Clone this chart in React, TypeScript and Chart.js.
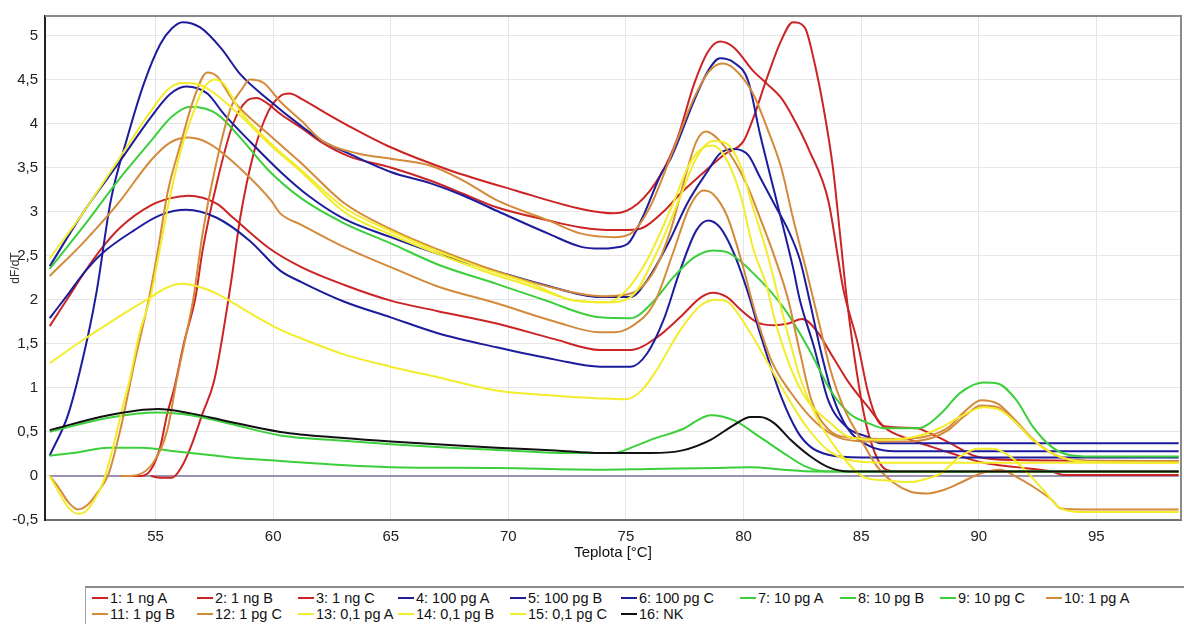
import { useEffect, useRef } from "react";
import { Chart, registerables } from "chart.js";

Chart.register(...registerables);

type Pt = [number, number];

// Axis ticks: temperature (°C) and dF/dT
const tempTicks = [55, 60, 65, 70, 75, 80, 85, 90, 95];
const dfTicks = [-0.5, 0, 0.5, 1, 1.5, 2, 2.5, 3, 3.5, 4, 4.5, 5];

const sampleNames = [
  "1: 1 ng A", "2: 1 ng B", "3: 1 ng C",
  "4: 100 pg A", "5: 100 pg B", "6: 100 pg C",
  "7: 10 pg A", "8: 10 pg B", "9: 10 pg C",
  "10: 1 pg A", "11: 1 pg B", "12: 1 pg C",
  "13: 0,1 pg A", "14: 0,1 pg B", "15: 0,1 pg C",
  "16: NK",
];

const RED = "#cc2424";
const BLUE = "#1c1c9c";
const GREEN = "#3ccf3c";
const ORANGE = "#d48a3a";
const YELLOW = "#f2ec2a";
const BLACK = "#111111";

const sampleColors = [
  RED, RED, RED, BLUE, BLUE, BLUE, GREEN, GREEN, GREEN,
  ORANGE, ORANGE, ORANGE, YELLOW, YELLOW, YELLOW, BLACK,
];

// Melting curves: [temperature °C, dF/dT]
const ng1A: Pt[] = [
  [50.5, 1.7], [51.3, 2.03], [52.0, 2.32], [52.7, 2.58], [53.5, 2.82], [54.8, 3.07], [55.6, 3.15],
  [56.4, 3.18], [57.6, 3.09], [58.3, 2.93], [59.8, 2.59], [61.2, 2.37], [63, 2.17], [65, 1.99],
  [67, 1.87], [69.5, 1.73], [72, 1.55], [73.9, 1.43], [75.2, 1.43], [76.3, 1.57], [77.3, 1.8],
  [78.2, 2.03], [78.7, 2.08], [79.3, 2.03], [79.9, 1.88], [80.6, 1.74], [81.3, 1.71], [81.9, 1.73],
  [82.5, 1.78], [83.1, 1.65], [83.8, 1.35], [84.5, 1.05], [85.3, 0.78], [86.0, 0.55], [87, 0.42],
  [88, 0.33], [88.8, 0.26], [90.2, 0.15], [91.6, 0.1], [93.1, 0.05], [93.6, 0.01], [98.5, 0.01],
];

const ng1B: Pt[] = [
  [53.5, 0], [54.4, 0.0], [54.8, 0.07], [55.2, 0.33], [55.5, 0.71], [55.8, 1.0], [56.2, 1.5],
  [56.7, 2.03], [57.0, 2.56], [57.6, 3.32], [58.3, 4.0], [58.9, 4.26], [59.3, 4.29], [59.8, 4.22],
  [60.3, 4.11], [61.2, 3.95], [62.1, 3.78], [63.2, 3.63], [65, 3.5], [66.7, 3.35], [68.1, 3.2],
  [69.5, 3.05], [71.7, 2.9], [73.1, 2.82], [74.5, 2.79], [75.5, 2.8], [76.6, 3.0], [77.3, 3.2],
  [78.2, 3.42], [79.2, 3.65], [80.0, 3.8], [80.4, 4.05], [81.0, 4.52], [81.6, 4.94], [82.1, 5.15],
  [82.6, 5.09], [83.0, 4.71], [83.4, 4.18], [83.8, 3.5], [84.1, 2.75], [84.4, 1.99], [84.8, 1.2],
  [85.2, 0.6], [85.6, 0.25], [86.0, 0.08], [86.5, 0.05], [98.5, 0.05],
];

const ng1C: Pt[] = [
  [54.8, 0], [55.2, -0.02], [55.7, -0.02], [56.1, 0.1], [56.5, 0.33], [57.0, 0.71], [57.5, 1.09],
  [58.2, 2.18], [58.6, 2.93], [59.2, 3.69], [59.8, 4.14], [60.3, 4.31], [60.7, 4.34], [61.2, 4.28],
  [62.1, 4.14], [63.3, 3.96], [65, 3.73], [67.5, 3.47], [70.3, 3.24], [73.1, 3.03], [74.5, 2.98],
  [75.5, 3.09], [76.5, 3.43], [77.2, 3.84], [77.9, 4.45], [78.5, 4.82], [79.0, 4.93], [79.6, 4.86],
  [80.4, 4.6], [81.0, 4.45], [81.6, 4.29], [82.1, 4.07], [82.8, 3.69], [83.6, 3.13], [84.25, 2.11],
  [84.85, 1.51], [85.3, 0.94], [85.7, 0.63], [86.1, 0.56], [87.4, 0.54], [87.8, 0.5], [88.8, 0.37],
  [89.9, 0.22], [91.6, 0.18], [98.5, 0.17],
];

const pg100A: Pt[] = [
  [50.5, 0.23], [51.3, 0.71], [52.15, 1.62], [52.5, 2.1], [53.1, 3.13], [53.8, 3.84], [54.5, 4.45],
  [55.2, 4.9], [55.7, 5.08], [56.15, 5.15], [56.9, 5.09], [57.8, 4.85], [58.6, 4.56], [59.8, 4.27],
  [61.2, 3.97], [62.1, 3.8], [63.2, 3.66], [65, 3.45], [66.7, 3.32], [68.1, 3.18], [69.5, 3.01],
  [71.7, 2.75], [73.1, 2.6], [73.9, 2.58], [74.5, 2.59], [75.1, 2.64], [75.7, 2.93], [76.5, 3.43],
  [76.9, 3.6], [77.9, 4.26], [78.5, 4.6], [79.0, 4.74], [79.6, 4.69], [80.2, 4.48], [80.7, 3.88],
  [81.4, 3.13], [82.1, 2.37], [82.4, 1.99], [83.0, 1.46], [83.6, 0.86], [84.4, 0.55], [85.3, 0.44],
  [85.8, 0.37], [98.5, 0.37],
];

const pg100B: Pt[] = [
  [50.5, 2.38], [51.9, 2.98], [53.4, 3.54], [54.8, 4.07], [55.6, 4.33], [56.3, 4.42], [57.2, 4.34],
  [57.9, 4.11], [59.0, 3.8], [60.4, 3.43], [61.5, 3.18], [63, 2.92], [65, 2.71], [67, 2.52],
  [69.4, 2.33], [71.5, 2.17], [73.9, 2.03], [75.2, 2.03], [75.9, 2.22], [76.8, 2.64], [77.6, 3.09],
  [78.5, 3.47], [79.0, 3.66], [79.6, 3.71], [80.2, 3.64], [80.7, 3.39], [81.3, 3.09], [81.9, 2.79],
  [82.4, 2.45], [82.8, 2.0], [83.3, 1.4], [83.8, 0.9], [84.4, 0.55], [85.2, 0.36], [86.0, 0.29],
  [87, 0.28], [98.5, 0.28],
];

const pg100C: Pt[] = [
  [50.5, 1.79], [51.3, 2.07], [52.0, 2.32], [52.7, 2.52], [54.1, 2.79], [55.2, 2.96], [56.3, 3.02],
  [57.6, 2.93], [59.0, 2.67], [60.3, 2.33], [61.2, 2.2], [63, 1.98], [65, 1.8], [67, 1.62],
  [69.5, 1.46], [72, 1.32], [73.9, 1.24], [75.2, 1.24], [75.9, 1.39], [76.6, 1.77], [77.3, 2.33],
  [78.0, 2.79], [78.5, 2.9], [79.0, 2.82], [79.6, 2.52], [80.2, 2.07], [80.7, 1.62], [81.6, 0.9],
  [82.3, 0.5], [82.85, 0.33], [83.6, 0.24], [85, 0.21], [98.5, 0.21],
];

const pg10A: Pt[] = [
  [50.5, 2.35], [51.9, 2.82], [53.4, 3.35], [54.8, 3.8], [55.7, 4.08], [56.5, 4.19], [57.6, 4.11],
  [58.6, 3.84], [59.8, 3.47], [61.2, 3.15], [63, 2.87], [65, 2.64], [67, 2.4], [69.5, 2.18],
  [71.5, 2.0], [73.9, 1.8], [75.2, 1.79], [76.2, 1.99], [77.0, 2.25], [77.9, 2.48], [78.7, 2.56],
  [79.3, 2.54], [80.3, 2.33], [81.7, 1.91], [82.8, 1.43], [83.7, 0.97], [84.5, 0.71], [85.3, 0.6],
  [86, 0.54], [87.4, 0.54], [88.4, 0.71], [89.2, 0.94], [90.2, 1.06], [90.8, 1.05], [91.6, 0.86],
  [92.3, 0.56], [93.1, 0.33], [93.8, 0.24], [94.8, 0.22], [98.5, 0.22],
];

const pg10B: Pt[] = [
  [50.5, 0.5], [53.0, 0.66], [55.1, 0.72], [56.5, 0.69], [57.9, 0.61], [60.3, 0.46], [63, 0.4],
  [65, 0.36], [67.5, 0.32], [70, 0.29], [72.5, 0.26], [74.5, 0.26], [75.3, 0.33], [76.05, 0.41],
  [77.4, 0.53], [78.6, 0.69], [79.6, 0.63], [80.7, 0.44], [81.7, 0.26], [82.7, 0.1], [83.6, 0.05],
  [98.5, 0.05],
];

const pg10C: Pt[] = [
  [50.5, 0.23], [51.5, 0.26], [53, 0.32], [54.4, 0.32], [55.8, 0.28], [57.2, 0.24], [58.6, 0.2],
  [60.3, 0.17], [62.5, 0.13], [65, 0.1], [69.5, 0.09], [73.9, 0.07], [76, 0.08], [78.9, 0.09],
  [80.3, 0.1], [81.7, 0.07], [83, 0.05], [98.5, 0.05],
];

const pg1A: Pt[] = [
  [50.5, 0], [50.9, -0.14], [51.3, -0.3], [51.7, -0.38], [52.1, -0.33], [52.5, -0.2], [53.0, 0.02],
  [53.5, 0.52], [54.1, 1.28], [54.7, 1.99], [55.1, 2.56], [55.5, 3.2], [56.1, 3.8], [56.6, 4.26],
  [57.2, 4.58], [57.6, 4.54], [58.3, 4.26], [59.8, 3.88], [61.2, 3.55], [63, 3.1], [65, 2.8],
  [67, 2.57], [69, 2.37], [71, 2.2], [73, 2.07], [74, 2.04], [75.2, 2.07], [76.2, 2.33],
  [76.9, 2.79], [77.6, 3.47], [78.0, 3.8], [78.4, 3.91], [79.0, 3.8], [79.6, 3.58], [80.2, 3.27],
  [80.7, 2.93], [81.3, 2.5], [81.9, 2.0], [82.4, 1.4], [82.9, 0.85], [83.6, 0.53], [84.4, 0.44],
  [86.4, 0.42], [87.8, 0.45], [88.7, 0.55], [89.4, 0.73], [90.1, 0.86], [90.8, 0.82], [91.6, 0.62],
  [92.3, 0.42], [93.1, 0.26], [93.8, 0.19], [95, 0.17], [98.5, 0.17],
];

const pg1B: Pt[] = [
  [53.5, 0], [53.9, 0.0], [54.9, 0.15], [55.5, 0.52], [55.9, 1.09], [56.3, 1.6], [56.6, 2.0],
  [57.0, 2.75], [57.5, 3.45], [58.2, 4.18], [58.7, 4.4], [59.0, 4.5], [59.6, 4.46], [60.3, 4.25],
  [61.2, 4.03], [62.1, 3.8], [63.6, 3.66], [65, 3.6], [66.7, 3.52], [68.1, 3.35], [69.5, 3.13],
  [71.7, 2.9], [73.1, 2.75], [74.5, 2.71], [75.2, 2.75], [76.0, 3.04], [77.0, 3.69], [77.9, 4.29],
  [78.5, 4.58], [79.1, 4.68], [79.6, 4.62], [80.4, 4.34], [81.0, 3.95], [81.6, 3.5], [82.1, 2.93],
  [82.7, 2.3], [83.2, 1.75], [83.7, 1.2], [84.25, 0.78], [85, 0.41], [85.7, 0.1], [86.4, -0.08],
  [87.1, -0.18], [87.8, -0.2], [88.5, -0.16], [89.2, -0.08], [90.1, 0.03], [90.9, 0.07],
  [91.6, -0.01], [92.3, -0.12], [93.1, -0.27], [93.5, -0.37], [94.5, -0.38], [98.5, -0.38],
];

const pg1C: Pt[] = [
  [50.5, 2.27], [51.9, 2.64], [53.4, 3.09], [54.8, 3.58], [55.6, 3.78], [56.4, 3.84], [57.3, 3.77],
  [58.6, 3.49], [59.9, 3.13], [60.3, 2.98], [61.2, 2.85], [63, 2.6], [65, 2.37], [67, 2.15],
  [69.5, 1.96], [72, 1.75], [73.9, 1.63], [74.5, 1.63], [75.2, 1.69], [76.2, 1.96], [77.0, 2.53],
  [77.7, 3.05], [78.3, 3.24], [78.7, 3.2], [79.3, 2.95], [79.9, 2.45], [80.5, 1.85], [81.2, 1.3],
  [82.0, 0.95], [83.1, 0.6], [84, 0.44], [85.3, 0.39], [87, 0.39], [88, 0.43], [88.7, 0.52],
  [89.4, 0.68], [90.1, 0.8], [90.8, 0.78], [91.6, 0.6], [92.3, 0.41], [93.1, 0.26], [93.8, 0.19],
  [95, 0.17], [98.5, 0.17],
];

const pg01A: Pt[] = [
  [50.5, 0], [50.9, -0.19], [51.3, -0.36], [51.7, -0.43], [52.0, -0.41], [52.4, -0.27],
  [52.8, -0.05], [53.2, 0.33], [53.6, 0.78], [53.9, 1.09], [54.3, 1.6], [54.8, 2.05], [55.2, 2.6],
  [55.6, 3.15], [56.1, 3.72], [56.6, 4.12], [57.0, 4.38], [57.5, 4.5], [57.9, 4.45], [58.6, 4.14],
  [59.8, 3.8], [61.2, 3.47], [63, 3.05], [65, 2.78], [67, 2.55], [69, 2.35], [71, 2.18],
  [72.8, 1.99], [74.2, 1.97], [75.2, 2.03], [76.3, 2.53], [77.3, 3.16], [78.0, 3.61], [78.7, 3.8],
  [79.3, 3.77], [79.9, 3.5], [80.4, 3.05], [81.0, 2.53], [81.7, 1.8], [82.4, 1.12], [83.1, 0.67],
  [84.0, 0.29], [85.1, -0.01], [86.0, -0.05], [87.1, -0.07], [87.8, -0.03], [88.4, 0.03],
  [89.2, 0.22], [89.95, 0.31], [90.6, 0.31], [91.35, 0.22], [92.1, 0.03], [92.75, -0.16],
  [93.5, -0.37], [94.5, -0.41], [98.5, -0.41],
];

const pg01B: Pt[] = [
  [50.5, 2.47], [51.9, 2.98], [53.4, 3.58], [54.8, 4.14], [55.5, 4.38], [56.1, 4.46], [56.7, 4.45],
  [57.3, 4.38], [58.6, 4.09], [59.9, 3.75], [61.2, 3.45], [63, 3.0], [65, 2.74], [67, 2.52],
  [69, 2.32], [71, 2.15], [72.8, 1.99], [74.2, 1.97], [75.0, 2.1], [75.9, 2.45], [77.0, 3.09],
  [77.7, 3.54], [78.3, 3.73], [78.7, 3.75], [79.3, 3.58], [79.9, 3.16], [80.4, 2.59], [81.0, 2.14],
  [81.3, 1.8], [82.0, 1.23], [82.7, 0.86], [83.7, 0.6], [84.5, 0.44], [86, 0.41], [87.4, 0.45],
  [88.4, 0.55], [89.2, 0.67], [90.2, 0.78], [90.9, 0.75], [91.6, 0.6], [92.3, 0.41], [93.1, 0.26],
  [93.8, 0.19], [94.5, 0.16], [98.5, 0.15],
];

const pg01C: Pt[] = [
  [50.5, 1.28], [51.9, 1.54], [53.4, 1.8], [54.8, 2.03], [55.5, 2.14], [56.1, 2.18], [56.8, 2.15],
  [57.6, 2.07], [59.0, 1.85], [60.3, 1.66], [61.2, 1.56], [63, 1.38], [65, 1.24], [67, 1.12],
  [69.5, 0.97], [72, 0.91], [73.9, 0.88], [75, 0.87], [75.7, 0.98], [76.3, 1.2], [77.3, 1.65],
  [78.2, 1.94], [78.9, 2.0], [79.4, 1.96], [80.3, 1.62], [81.7, 0.97], [82.7, 0.55], [83.6, 0.29],
  [84.5, 0.18], [86, 0.15], [98.5, 0.15],
];

const nk: Pt[] = [
  [50.5, 0.52], [53.0, 0.69], [55.1, 0.76], [56.5, 0.71], [57.9, 0.63], [60.3, 0.5], [63, 0.43],
  [65, 0.39], [67.5, 0.35], [69.5, 0.32], [72, 0.29], [73.9, 0.26], [75.5, 0.26], [76.05, 0.26],
  [77.4, 0.29], [78.6, 0.41], [79.6, 0.58], [80.3, 0.67], [80.7, 0.67], [81.3, 0.6], [82.0, 0.41],
  [82.85, 0.22], [83.6, 0.1], [84.5, 0.05], [98.5, 0.05],
];

const baseline: Pt[] = [[50.5, 0], [98.5, 0]];

const samples: Pt[][] = [
  ng1A, ng1B, ng1C, pg100A, pg100B, pg100C, pg10A, pg10B, pg10C,
  pg1A, pg1B, pg1C, pg01A, pg01B, pg01C, nk,
];

const FONT = "'Liberation Sans', Arial, Helvetica, sans-serif";

// legend grid: column starts and row centres (page pixels)
const legendCols = [92, 197, 298, 398, 510, 621, 740, 840, 940, 1046];
const legendRows = [598, 614];

const framePlugin = {
  id: "plotFrame",
  afterDraw(chart: any) {
    const { ctx, chartArea: a } = chart;
    ctx.save();
    ctx.strokeStyle = "#8a8a8a";
    ctx.lineWidth = 2;
    ctx.beginPath();
    ctx.moveTo(a.left, a.top);
    ctx.lineTo(a.right, a.top);
    ctx.lineTo(a.right, a.bottom);
    ctx.stroke();
    ctx.restore();
  },
};

function MeltChart() {
  const ref = useRef<HTMLCanvasElement | null>(null);

  useEffect(() => {
    if (!ref.current) return;
    const curves = samples.map((pts, i) => ({
      label: sampleNames[i],
      data: pts.map(([x, y]) => ({ x, y })),
      borderColor: sampleColors[i],
      borderWidth: 2,
      pointRadius: 0,
      fill: false,
      cubicInterpolationMode: "monotone" as const,
    }));
    // first dataset is drawn on top: put later samples first, baseline last
    const datasets = [
      ...curves.slice().reverse(),
      {
        label: "baseline",
        data: baseline.map(([x, y]) => ({ x, y })),
        borderColor: "#7d729e",
        borderWidth: 1.5,
        pointRadius: 0,
        fill: false,
      },
    ];

    const chart = new Chart(ref.current, {
      type: "line",
      data: { datasets },
      plugins: [framePlugin],
      options: {
        animation: false,
        responsive: false,
        layout: { padding: { top: 15, right: 3, left: 0, bottom: 0 } },
        plugins: { legend: { display: false }, tooltip: { enabled: false } },
        scales: {
          x: {
            type: "linear",
            min: 50.3,
            max: 98.6,
            afterBuildTicks: (s: any) => {
              s.ticks = tempTicks.map((v) => ({ value: v }));
            },
            afterFit: (s: any) => {
              s.height = 64;
            },
            grid: { color: "#e6e6e6", lineWidth: 1, drawTicks: false },
            border: { color: "#6f6f6f", width: 2 },
            ticks: {
              padding: 8,
              color: "#222",
              font: { family: FONT, size: 15 },
              maxRotation: 0,
              autoSkip: false,
              callback: (v: any) => String(v),
            },
            title: {
              display: true,
              text: "Teplota [°C]",
              color: "#111",
              font: { family: FONT, size: 15 },
              padding: { top: 0, bottom: 22 },
            },
          },
          y: {
            type: "linear",
            min: -0.5,
            max: 5.22,
            afterBuildTicks: (s: any) => {
              s.ticks = dfTicks.map((v) => ({ value: v }));
            },
            afterFit: (s: any) => {
              s.width = 45;
            },
            grid: { color: "#e6e6e6", lineWidth: 1, drawTicks: false },
            border: { color: "#222", width: 2 },
            ticks: {
              padding: 7,
              color: "#222",
              font: { family: FONT, size: 15 },
              autoSkip: false,
              callback: (v: any) => String(v).replace(".", ","),
            },
            title: {
              display: true,
              text: "dF/dT",
              color: "#333",
              font: { family: FONT, size: 12 },
              padding: { top: 8, bottom: 0 },
            },
          },
        },
      },
    } as any);
    return () => chart.destroy();
  }, []);

  return (
    <canvas
      ref={ref}
      width={1184}
      height={584}
      style={{ position: "absolute", left: 0, top: 0, width: 1184, height: 584 }}
    />
  );
}

function Legend() {
  return (
    <>
      <div
        style={{
          position: "absolute",
          left: 85,
          top: 586,
          width: 1099,
          height: 40,
          borderTop: "2px solid #8c8c8c",
          borderLeft: "1px solid #a0a0a0",
          boxSizing: "border-box",
        }}
      />
      {sampleNames.map((name, i) => {
        const col = i % 10;
        const row = Math.floor(i / 10);
        return (
          <div
            key={name}
            style={{
              position: "absolute",
              left: legendCols[col],
              top: legendRows[row] - 8,
              height: 16,
              display: "flex",
              alignItems: "center",
              whiteSpace: "nowrap",
              fontFamily: FONT,
              fontSize: 14.5,
              color: "#111",
            }}
          >
            <span
              style={{
                display: "inline-block",
                width: 16,
                height: 2,
                background: sampleColors[i],
                marginRight: 2,
              }}
            />
            <span>{name}</span>
          </div>
        );
      })}
    </>
  );
}

export default function App() {
  return (
    <div
      style={{
        position: "fixed",
        left: 0,
        top: 0,
        width: 1184,
        height: 624,
        background: "#fff",
        overflow: "hidden",
      }}
    >
      <MeltChart />
      <Legend />
    </div>
  );
}
